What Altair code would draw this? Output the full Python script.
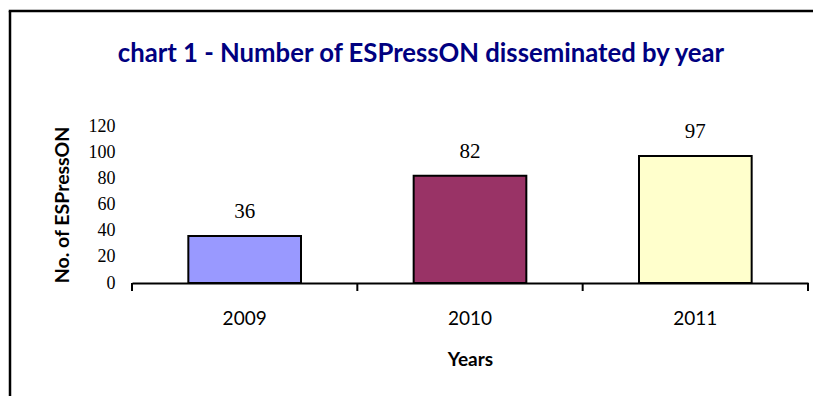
import altair as alt
import pandas as pd

years = ["2009", "2010", "2011"]
counts = [36, 82, 97]
colors = ["#9999FF", "#993366", "#FFFFCC"]
boundaries = [0, 1, 2, 3]
y_ticks = [0, 20, 40, 60, 80, 100, 120]
title_text = "chart 1 - Number of ESPressON disseminated by year"

df = pd.DataFrame({"year": years, "count": counts, "color": colors})
ticks_df = pd.DataFrame({"pos": boundaries})

W, H = 676, 157

band_scale = alt.Scale(paddingInner=0.5, paddingOuter=0.25)
y_scale = alt.Scale(domain=[0, 120])

y_axis = alt.Axis(
    title="No. of ESPressON",
    values=y_ticks,
    labelOverlap=False,
    domain=False,
    ticks=False,
    tickSize=0,
    grid=False,
    labelFont="Liberation Serif",
    labelFontSize=18,
    labelColor="black",
    labelPadding=17,
    titleFont="Lato",
    titleFontSize=19.5,
    titleFontWeight="bold",
    titleColor="black",
    titleAngle=270,
    titleX=-70,
    titleY=H / 2,
    titleAlign="center",
    titleBaseline="middle",
)

x_band = alt.X(
    "year:N",
    sort=years,
    scale=band_scale,
    axis=alt.Axis(
        title="Years",
        labelAngle=0,
        ticks=False,
        tickSize=0,
        domain=True,
        domainColor="black",
        domainWidth=2,
        labelFont="Lato",
        labelFontSize=19,
        labelColor="black",
        labelPadding=26,
        titleFont="Lato",
        titleFontSize=19,
        titleFontWeight="bold",
        titleColor="black",
        titleY=76,
        titleBaseline="middle",
    ),
)

bars = alt.Chart(df).mark_bar(stroke="black", strokeWidth=2).encode(
    x=x_band,
    y=alt.Y("count:Q", scale=y_scale, axis=y_axis),
    fill=alt.Fill("color:N", scale=None),
)

labels = alt.Chart(df).mark_text(
    font="Liberation Serif", fontSize=21, color="black", baseline="alphabetic", dy=-18
).encode(
    x=alt.X("year:N", sort=years, scale=band_scale, axis=None),
    y=alt.Y("count:Q", scale=y_scale, axis=y_axis),
    text="count:Q",
)

tick_rules = alt.Chart(ticks_df).mark_rule(color="black", strokeWidth=2).encode(
    x=alt.X("pos:Q", scale=alt.Scale(domain=[0, 3], nice=False, zero=False), axis=None),
    y=alt.value(H),
    y2=alt.value(H + 8),
)

one = alt.Data(values=[{"t": title_text}])

frame_left = alt.Chart(one).mark_rule(color="black", strokeWidth=2.5).encode(
    x=alt.value(-122),
    y=alt.value(-115),
    y2=alt.value(H + 113),
)
frame_top = alt.Chart(one).mark_rule(color="black", strokeWidth=2.5).encode(
    x=alt.value(-123.25),
    x2=alt.value(W + 5),
    y=alt.value(-115),
)

title = alt.Chart(one).mark_text(
    font="Lato", fontSize=25.7, fontWeight="bold", color="#000080",
    align="center", baseline="alphabetic",
).encode(
    x=alt.value(289),
    y=alt.value(-64),
    text="t:N",
)

chart = (
    alt.layer(frame_left, frame_top, title, bars, labels, tick_rules)
    .resolve_scale(x="independent")
    .properties(
        width=W,
        height=H,
        autosize=alt.AutoSizeParams(type="none"),
        padding={"left": 124, "top": 118, "right": 5, "bottom": 113},
    )
    .configure_axis(grid=False)
    .configure_view(stroke=None)
)

chart.save("out.html", embed_options={"renderer": "svg", "actions": False})
